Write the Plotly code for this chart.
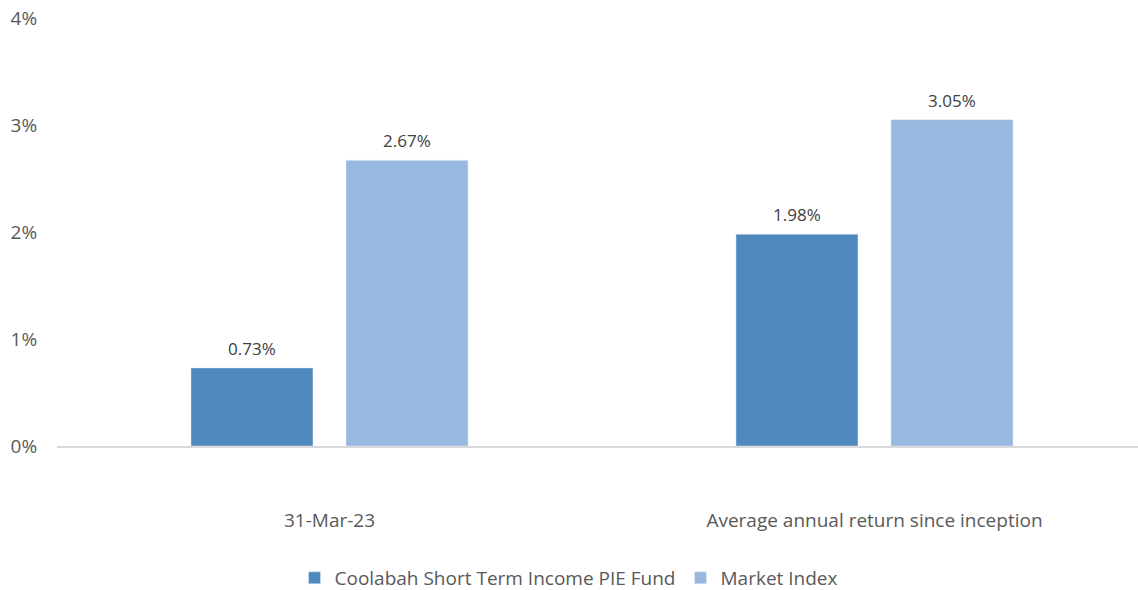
import plotly.graph_objects as go

categories = ["31-Mar-23", "Average annual return since inception"]
fund_name = "Coolabah Short Term Income PIE Fund"
index_name = "Market Index"
fund_values = [0.73, 1.98]
index_values = [2.67, 3.05]
y_ticks = [0, 1, 2, 3, 4]
y_tick_labels = ["0%", "1%", "2%", "3%", "4%"]

FONT = "Open Sans, Calibri, sans-serif"
TXT = "#595959"
c_fund = "#4f89bd"
c_index = "#97b9df"

fig = go.Figure()
fig.add_trace(go.Bar(x=categories, y=fund_values, name=fund_name, marker_color=c_fund,
                     hoverinfo="skip"))
fig.add_trace(go.Bar(x=categories, y=index_values, name=index_name, marker_color=c_index,
                     hoverinfo="skip"))

annotations = []
for vals, shift in ((fund_values, -77.5), (index_values, 77.5)):
    for c, v in zip(categories, vals):
        annotations.append(dict(x=c, y=v, xref="x", yref="y", text=f"{v:.2f}%",
                                showarrow=False, yanchor="bottom", xshift=shift, yshift=6,
                                font=dict(family=FONT, size=17, color="#404040")))

fig.update_layout(
    width=1138, height=590,
    margin=dict(l=57, r=0, t=18, b=144),
    paper_bgcolor="white", plot_bgcolor="white",
    barmode="group", bargap=0.431, bargroupgap=0.213,
    font=dict(family=FONT, size=19, color=TXT),
    showlegend=True,
    legend=dict(orientation="h", x=0.5, xanchor="center", xref="container",
                y=12 / 590, yanchor="middle", yref="container",
                font=dict(family=FONT, size=19, color=TXT), traceorder="normal"),
    annotations=annotations,
)
fig.update_xaxes(range=[-0.5, 1.4835], showline=True, linecolor="#d9d9d9", linewidth=1.5,
                 showgrid=False, ticks="outside", ticklen=56, tickcolor="rgba(0,0,0,0)",
                 automargin=False, tickfont=dict(family=FONT, size=19, color=TXT))
fig.update_yaxes(range=[0, 4], tickvals=y_ticks, ticktext=y_tick_labels, showgrid=False,
                 zeroline=False, showline=False, ticks="outside", ticklen=15, automargin=False,
                 tickcolor="rgba(0,0,0,0)", tickfont=dict(family=FONT, size=19, color=TXT))

fig.write_html("out.html", config={"displayModeBar": False},
               post_script="document.body.style.margin='0';")
